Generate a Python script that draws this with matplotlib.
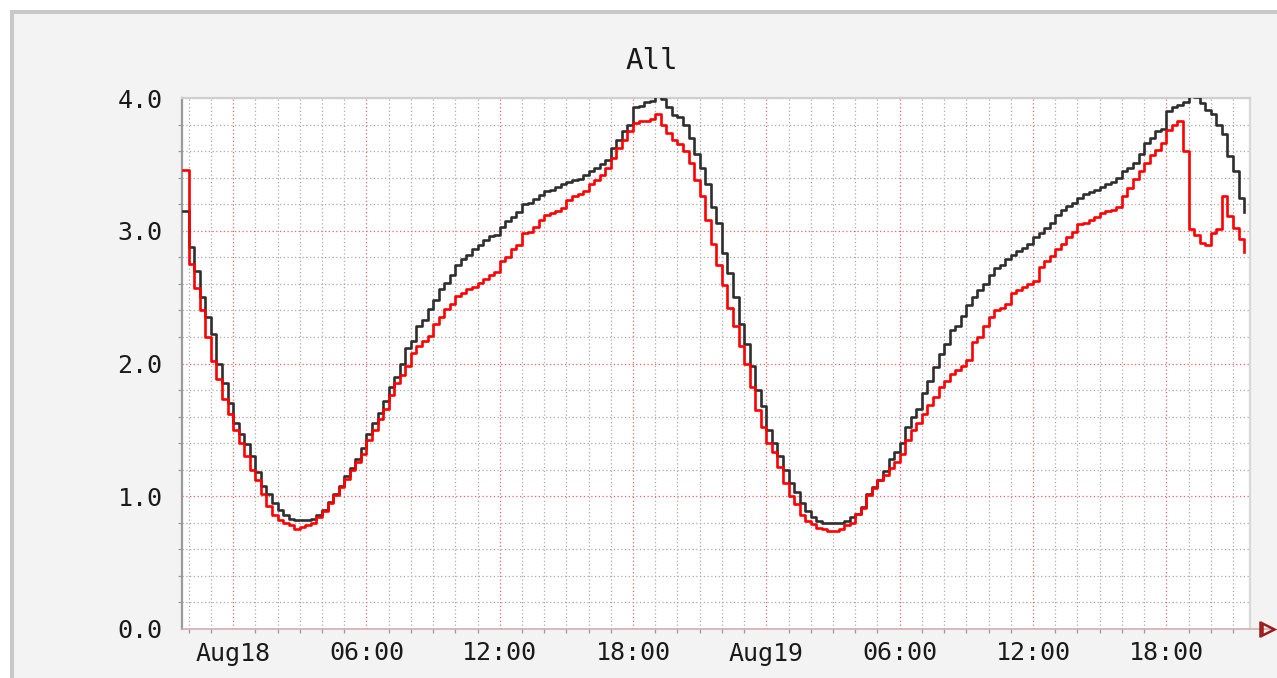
import numpy as np
import pandas as pd
import matplotlib
matplotlib.use("Agg")
import matplotlib.pyplot as plt
import matplotlib.dates as mdates
from matplotlib.patches import Rectangle
from matplotlib.ticker import MultipleLocator, FuncFormatter

# ── Data: 15-minute samples starting Aug17 21:45 ─────────────────────────────
start_time = "2023-08-17 21:45"

black_vals = [
    3.15, 2.88, 2.70, 2.50, 2.35, 2.22, 2.00, 1.85, 1.70, 1.55,
    1.47, 1.39, 1.30, 1.18, 1.08, 1.02, 0.95, 0.90, 0.86, 0.83,
    0.82, 0.82, 0.82, 0.83, 0.86, 0.90, 0.96, 1.02, 1.08, 1.15,
    1.21, 1.28, 1.36, 1.47, 1.55, 1.63, 1.72, 1.82, 1.90, 2.00,
    2.12, 2.17, 2.28, 2.33, 2.41, 2.48, 2.56, 2.61, 2.67, 2.74,
    2.79, 2.82, 2.86, 2.89, 2.93, 2.96, 2.97, 3.03, 3.07, 3.10,
    3.14, 3.20, 3.21, 3.24, 3.27, 3.30, 3.31, 3.33, 3.35, 3.37,
    3.38, 3.39, 3.42, 3.45, 3.47, 3.50, 3.53, 3.62, 3.68, 3.75,
    3.80, 3.93, 3.94, 3.97, 3.98, 4.02, 3.99, 3.93, 3.87, 3.86,
    3.80, 3.70, 3.58, 3.47, 3.35, 3.18, 3.06, 2.83, 2.68, 2.50,
    2.30, 2.15, 1.98, 1.80, 1.68, 1.50, 1.40, 1.30, 1.20, 1.10,
    1.03, 0.95, 0.89, 0.84, 0.81, 0.80, 0.80, 0.80, 0.80, 0.81,
    0.84, 0.87, 0.92, 1.02, 1.07, 1.12, 1.19, 1.28, 1.33, 1.40,
    1.52, 1.60, 1.66, 1.78, 1.87, 1.97, 2.07, 2.15, 2.25, 2.28,
    2.36, 2.44, 2.50, 2.55, 2.60, 2.67, 2.72, 2.74, 2.79, 2.82,
    2.85, 2.87, 2.90, 2.95, 2.98, 3.02, 3.06, 3.12, 3.16, 3.19,
    3.21, 3.25, 3.28, 3.29, 3.31, 3.33, 3.35, 3.37, 3.40, 3.45,
    3.47, 3.51, 3.58, 3.66, 3.70, 3.75, 3.77, 3.90, 3.93, 3.95,
    3.97, 4.02, 4.01, 3.96, 3.91, 3.88, 3.80, 3.73, 3.56, 3.45,
    3.25, 3.14,
]

red_vals = [
    3.46, 2.75, 2.57, 2.40, 2.20, 2.02, 1.88, 1.73, 1.62, 1.50,
    1.40, 1.30, 1.20, 1.12, 1.02, 0.93, 0.86, 0.82, 0.80, 0.78,
    0.75, 0.77, 0.78, 0.80, 0.84, 0.89, 0.95, 1.01, 1.07, 1.13,
    1.20, 1.26, 1.32, 1.42, 1.50, 1.58, 1.66, 1.76, 1.85, 1.91,
    1.98, 2.08, 2.13, 2.17, 2.21, 2.30, 2.35, 2.41, 2.45, 2.51,
    2.53, 2.56, 2.58, 2.61, 2.64, 2.67, 2.69, 2.77, 2.80, 2.86,
    2.89, 2.98, 2.99, 3.03, 3.08, 3.12, 3.13, 3.15, 3.17, 3.23,
    3.26, 3.28, 3.30, 3.35, 3.38, 3.42, 3.47, 3.55, 3.62, 3.68,
    3.75, 3.81, 3.83, 3.83, 3.84, 3.88, 3.80, 3.74, 3.68, 3.65,
    3.60, 3.51, 3.38, 3.26, 3.08, 2.90, 2.74, 2.59, 2.42, 2.28,
    2.13, 2.00, 1.82, 1.65, 1.52, 1.40, 1.33, 1.22, 1.10, 1.00,
    0.94, 0.86, 0.81, 0.79, 0.76, 0.75, 0.74, 0.74, 0.75, 0.78,
    0.80, 0.87, 0.91, 1.01, 1.06, 1.12, 1.16, 1.21, 1.26, 1.32,
    1.42, 1.50, 1.55, 1.62, 1.69, 1.75, 1.82, 1.87, 1.92, 1.95,
    1.98, 2.03, 2.16, 2.20, 2.28, 2.35, 2.40, 2.42, 2.45, 2.53,
    2.55, 2.58, 2.60, 2.62, 2.73, 2.77, 2.81, 2.86, 2.90, 2.95,
    2.99, 3.05, 3.06, 3.08, 3.10, 3.13, 3.15, 3.16, 3.18, 3.26,
    3.32, 3.39, 3.45, 3.51, 3.57, 3.61, 3.66, 3.76, 3.80, 3.83,
    3.60, 3.01, 2.97, 2.91, 2.89, 2.98, 3.01, 3.26, 3.11, 3.02,
    2.94, 2.84,
]

times = pd.date_range(start_time, periods=len(black_vals), freq="15min")
x_min = pd.Timestamp("2023-08-17 21:42")
x_max = pd.Timestamp("2023-08-19 21:46")

W, H = 1277, 678
mono = "DejaVu Sans Mono"

fig = plt.figure(figsize=(W / 100, H / 100), dpi=100, facecolor="white")

# outer frame: gray border at top/left, light panel inside
fig.add_artist(Rectangle((10 / W, 0), 1 - 10 / W, 1 - 10 / H, transform=fig.transFigure,
                         facecolor="#c8c8c8", edgecolor="none", zorder=-10))
fig.add_artist(Rectangle((14 / W, 0), 1 - 14 / W, 1 - 14 / H, transform=fig.transFigure,
                         facecolor="#f3f3f3", edgecolor="none", zorder=-9))

ax = fig.add_axes([182 / W, (H - 629) / H, (1250 - 182) / W, (629 - 98) / H])
ax.set_facecolor("white")

ax.plot(times, black_vals, drawstyle="steps-post", color="#2e2e2e", lw=1.9, zorder=3)
ax.plot(times, red_vals, drawstyle="steps-post", color="#ff0000", lw=1.9, zorder=4)

ax.set_xlim(x_min, x_max)
ax.set_ylim(0, 4.0)

# ticks / grid
ax.xaxis.set_major_locator(mdates.HourLocator(byhour=[0, 6, 12, 18]))
ax.xaxis.set_minor_locator(mdates.HourLocator())


def fmt_time(x, pos):
    d = mdates.num2date(x)
    return d.strftime("%b%d") if d.hour == 0 else d.strftime("%H:%M")


ax.xaxis.set_major_formatter(FuncFormatter(fmt_time))
ax.yaxis.set_major_locator(MultipleLocator(1.0))
ax.yaxis.set_minor_locator(MultipleLocator(0.2))
ax.yaxis.set_major_formatter(FuncFormatter(lambda v, p: f"{v:.1f}"))

ax.set_axisbelow(True)
ax.grid(which="minor", color="#ababab", lw=0.9, linestyle=(0, (1, 2)))
ax.grid(which="major", color="#f06060", lw=0.9, linestyle=(0, (1, 2)))

ax.tick_params(which="major", axis="y", length=0, pad=14, labelsize=18, labelcolor="#1a1a1a")
ax.tick_params(which="major", axis="x", length=0, pad=9, labelsize=18, labelcolor="#1a1a1a")
ax.tick_params(which="minor", length=3, color="#999999", width=0.9)
for lab in ax.get_xticklabels() + ax.get_yticklabels():
    lab.set_family(mono)

for side, col, lw in [("left", "#9a9a9a", 1.6), ("top", "#cfcfcf", 1.6),
                      ("right", "#d8d8d8", 1.6), ("bottom", "#d4a8a8", 1.1)]:
    ax.spines[side].set_color(col)
    ax.spines[side].set_linewidth(lw)

# x-axis arrow beyond the plot area
ax.plot([1.0, 1.0 + 22 / 1068], [0, 0], transform=ax.transAxes, clip_on=False,
        color="#d4a8a8", lw=1.1)
ax.plot([1.0 + 10 / 1068], [0], transform=ax.transAxes, clip_on=False,
        marker="|", color="#9b1c1c", ms=12, mew=1.8)
ax.plot([1.0 + 18 / 1068], [0], transform=ax.transAxes, clip_on=False,
        marker=">", mfc="none", mec="#9b1c1c", ms=9, mew=1.8)

fig.text(652 / W, 1 - 61 / H, "All", ha="center", va="center",
         fontsize=21, family=mono, color="#1a1a1a")

plt.savefig("out.png", dpi=100, facecolor=fig.get_facecolor())
plt.close()
